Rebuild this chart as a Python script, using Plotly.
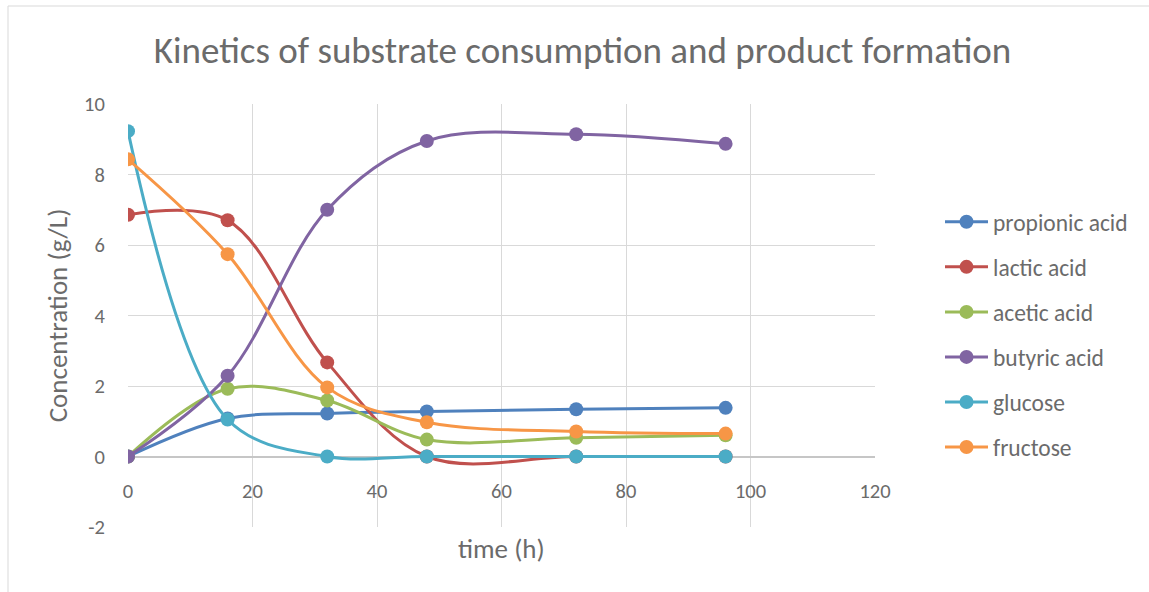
import plotly.graph_objects as go

# Sampling times (h)
time_h = [0, 16, 32, 48, 72, 96]

# Concentrations (g/L) per compound
propionic_acid = [0.0, 1.08, 1.22, 1.28, 1.34, 1.38]
lactic_acid = [6.86, 6.70, 2.67, 0.0, 0.0, 0.0]
acetic_acid = [0.0, 1.92, 1.59, 0.48, 0.53, 0.60]
butyric_acid = [0.0, 2.29, 7.00, 8.95, 9.14, 8.87]
glucose = [9.23, 1.05, 0.0, 0.0, 0.0, 0.0]
fructose = [8.43, 5.74, 1.96, 0.97, 0.71, 0.65]

series_names = ["propionic acid", "lactic acid", "acetic acid",
                "butyric acid", "glucose", "fructose"]
series_values = [propionic_acid, lactic_acid, acetic_acid,
                 butyric_acid, glucose, fructose]
series_colors = ["#4F81BD", "#C0504D", "#9BBB59", "#8064A2", "#4BACC6", "#F79646"]

x_ticks = [0, 20, 40, 60, 80, 100, 120]
y_ticks = [-2, 0, 2, 4, 6, 8, 10]

FONT = "Carlito, Calibri, Lato, sans-serif"
TEXT_GRAY = "#6b6b6b"
GRID = "#d9d9d9"

fig = go.Figure()
for i, (name, vals, col) in enumerate(zip(series_names, series_values, series_colors)):
    fig.add_trace(go.Scatter(
        x=time_h, y=vals, name=name, mode="lines+markers",
        line=dict(color=col, width=3, shape="spline", smoothing=1.0),
        marker=dict(color=col, size=14),
        legendgroup=f"g{i}",
    ))

W, H = 1149, 592
ml, mr, mt, mb = 128, 274, 104, 65
pw = W - ml - mr
ph = H - mt - mb
y_min, y_max = -2, 10
zero_frac = (0 - y_min) / (y_max - y_min)

fig.update_layout(
    width=W, height=H,
    margin=dict(l=ml, r=mr, t=mt, b=mb, autoexpand=False),
    paper_bgcolor="white", plot_bgcolor="white",
    font=dict(family=FONT, color=TEXT_GRAY, size=20),
    title=dict(
        text="Kinetics of substrate consumption and product formation",
        x=0.507, xanchor="center", xref="container",
        y=1 - 50 / H, yanchor="middle", yref="container",
        font=dict(size=37, color=TEXT_GRAY, family=FONT),
    ),
    xaxis=dict(
        range=[0, 120], tickvals=x_ticks, ticktext=[str(v) for v in x_ticks],
        showgrid=True, gridcolor=GRID, gridwidth=1,
        zeroline=False, showline=False,
        anchor="free", position=zero_frac,
        ticks="outside", ticklen=16, tickcolor="rgba(0,0,0,0)",
        tickfont=dict(size=20.5, color=TEXT_GRAY),
    ),
    yaxis=dict(
        range=[y_min, y_max], tickvals=y_ticks, ticktext=[str(v) for v in y_ticks],
        showgrid=True, gridcolor=GRID, gridwidth=1,
        zeroline=True, zerolinecolor="#c6c6c6", zerolinewidth=1.5,
        showline=False,
        ticks="outside", ticklen=18, tickcolor="rgba(0,0,0,0)",
        tickfont=dict(size=20.5, color=TEXT_GRAY),
        title=dict(text="Concentration (g/L)", font=dict(size=27, color=TEXT_GRAY),
                   standoff=8),
    ),
    legend=dict(
        x=(940 - ml) / pw, y=(H - mb - 200) / ph, xanchor="left", yanchor="top",
        font=dict(size=23.5, color=TEXT_GRAY, family=FONT),
        traceorder="grouped", tracegroupgap=11.5, itemwidth=43,
        bgcolor="rgba(0,0,0,0)",
    ),
    showlegend=True,
)

# x axis title under the plot area
fig.add_annotation(
    text="time (h)", xref="paper", yref="paper",
    x=0.5, y=(H - mb - 548) / ph, xanchor="center", yanchor="middle",
    showarrow=False, font=dict(size=27, color=TEXT_GRAY, family=FONT),
)

# outer chart frame
fig.add_shape(
    type="rect", xref="paper", yref="paper",
    x0=(8 - ml) / pw, x1=(W + 20 - ml) / pw,
    y0=(H - mb - (H + 20)) / ph, y1=(H - mb - 6) / ph,
    line=dict(color=GRID, width=1), fillcolor="rgba(0,0,0,0)", layer="below",
)

fig.write_html("out.html")
